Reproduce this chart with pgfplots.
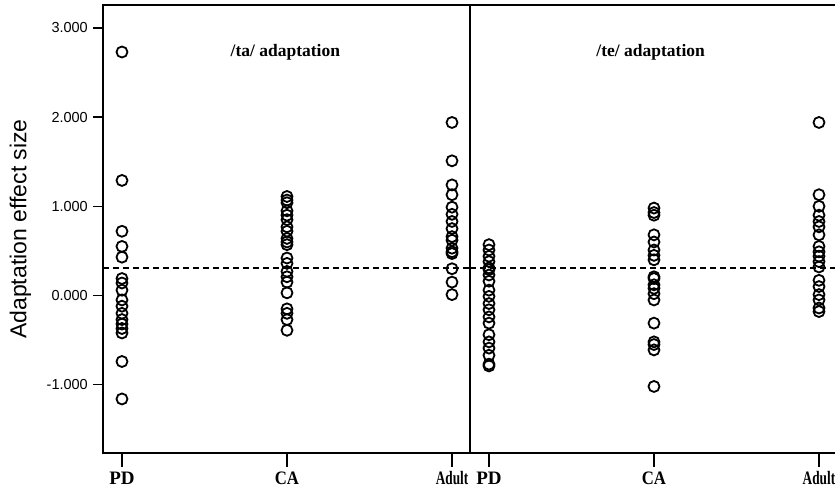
\documentclass[border=0pt]{standalone}
\usepackage{fontspec}
\setmainfont{Liberation Serif}
\setsansfont{Liberation Sans}
\usepackage{pgfplots}
\usepackage{pgfplotstable}
\pgfplotsset{compat=1.18}

% group: 0 = PD, 1 = CA, 2 = Adult
\pgfplotstableread{
g y
0 2.73
0 1.29
0 0.72
0 0.55
0 0.43
0 0.19
0 0.14
0 0.06
0 -0.05
0 -0.12
0 -0.20
0 -0.27
0 -0.32
0 -0.37
0 -0.42
0 -0.74
0 -1.16
1 1.11
1 1.07
1 1.04
1 0.95
1 0.90
1 0.85
1 0.77
1 0.72
1 0.64
1 0.60
1 0.57
1 0.42
1 0.36
1 0.27
1 0.21
1 0.15
1 0.03
1 -0.15
1 -0.20
1 -0.27
1 -0.39
2 1.94
2 1.51
2 1.24
2 1.13
2 0.99
2 0.91
2 0.83
2 0.75
2 0.66
2 0.62
2 0.53
2 0.49
2 0.47
2 0.30
2 0.15
2 0.01
}\tadata

\pgfplotstableread{
g y
0 0.57
0 0.51
0 0.44
0 0.38
0 0.31
0 0.29
0 0.23
0 0.16
0 0.06
0 -0.01
0 -0.09
0 -0.16
0 -0.24
0 -0.31
0 -0.44
0 -0.52
0 -0.59
0 -0.67
0 -0.77
0 -0.79
1 0.98
1 0.93
1 0.90
1 0.68
1 0.60
1 0.51
1 0.45
1 0.40
1 0.21
1 0.19
1 0.12
1 0.08
1 0.02
1 -0.05
1 -0.31
1 -0.52
1 -0.55
1 -0.61
1 -1.02
2 1.94
2 1.13
2 1.00
2 0.90
2 0.83
2 0.77
2 0.68
2 0.55
2 0.49
2 0.44
2 0.38
2 0.32
2 0.17
2 0.10
2 0.01
2 -0.05
2 -0.14
2 -0.18
}\tedata

\pgfplotsset{
  panel/.style={
    scale only axis,
    height=448pt,
    anchor=south west,
    ymin=-1.766, ymax=3.257,
    xtick={0,1,2},
    xticklabels={\scalebox{1.0}[1]{PD},\scalebox{0.88}[1]{CA},\scalebox{0.7}[1]{Adult}},
    xtick pos=left,
    xtick align=outside,
    ytick align=outside,
    major tick length=10pt,
    axis line style={line width=1.4pt},
    tick style={line width=1.6pt, black},
    xticklabel style={font=\fontsize{19}{20}\selectfont\bfseries, inner sep=2pt,
      text height=13pt, text depth=0pt, yshift=-6pt},
    clip=false,
  },
  pts/.style={only marks, mark=o, mark size=5.5pt, black,
    mark options={line width=1.8pt}},
  ref/.style={black, line width=2pt, dash pattern=on 6pt off 4pt},
}

\begin{document}
\begin{tikzpicture}
\begin{axis}[panel,
  at={(103pt,38pt)}, width=367pt,
  xmin=-0.115, xmax=2.109,
  ytick={-1,0,1,2,3},
  yticklabels={-1.000,0.000,1.000,2.000,3.000},
  ytick pos=left,
  yticklabel style={font=\sffamily\fontsize{14.5}{15}\selectfont, inner sep=2pt, xshift=-3pt},
  ylabel={Adaptation effect size},
  ylabel style={font=\sffamily\fontsize{23}{24}\selectfont},
  ylabel shift=10pt,
]
\addplot[ref] coordinates {(-0.115,0.312) (2.109,0.312)};
\addplot[pts] table[x=g,y=y] {\tadata};
\node[font=\fontsize{17.5}{18}\selectfont\bfseries] at (axis cs:0.99,2.73) {/ta/ adaptation};
\end{axis}

\begin{axis}[panel,
  at={(470pt,38pt)}, width=381pt,
  xmin=-0.115, xmax=2.194,
  ytick=\empty,
]
\addplot[ref] coordinates {(-0.115,0.312) (2.194,0.312)};
\addplot[pts] table[x=g,y=y] {\tedata};
\node[font=\fontsize{17.5}{18}\selectfont\bfseries] at (axis cs:0.98,2.73) {/te/ adaptation};
\end{axis}

% category tick marks below both panels
\foreach \t in {122,287,452,489,654,819}
  \fill[black] (\t pt-0.9pt,38pt) rectangle (\t pt+0.9pt,24pt);

\pgfresetboundingbox
\useasboundingbox (0pt,0pt) rectangle (835pt,491pt);
\end{tikzpicture}
\end{document}
